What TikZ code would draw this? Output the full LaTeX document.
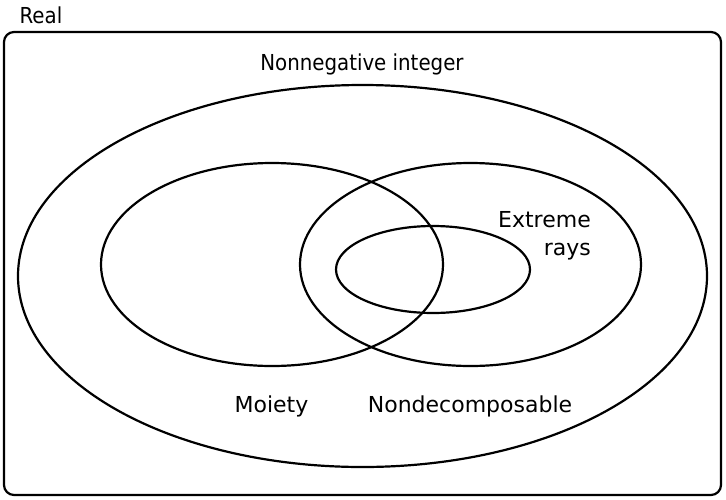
\documentclass[tikz,border=0pt]{standalone}
\usepackage{fontspec}
\setmainfont{DejaVu Sans}
\newfontfamily\condfont{DejaVu Sans Condensed}
\usetikzlibrary{shapes.geometric}
\tikzset{
  setline/.style={draw=black, line width=2.2pt},
  setellipse/.style={setline, ellipse, inner sep=0pt, fill=none},
  lbl/.style={font=\fontsize{22}{28}\selectfont, inner sep=0pt},
  outerlbl/.style={font=\condfont\fontsize{22}{28}\selectfont, inner sep=0pt},
}
\begin{document}
\begin{tikzpicture}[x=1pt,y=-1pt]
\useasboundingbox (0,0) rectangle (726,499);
\node[setline, rounded corners=10pt, minimum width=717pt, minimum height=463pt, inner sep=0pt] (real) at (362.5,263.5) {};
\node[setellipse, minimum width=689pt, minimum height=382pt] (nonneg) at (362.5,276) {};
\node[setellipse, minimum width=342pt, minimum height=203pt] (moiety) at (272,264.5) {};
\node[setellipse, minimum width=341pt, minimum height=203pt] (nondec) at (470.5,264.5) {};
\node[setellipse, minimum width=194pt, minimum height=87pt] (extreme) at (433,269.5) {};
\node[outerlbl, anchor=base] (treal) at (41,23) {Real};
\node[outerlbl, anchor=base] (tnonneg) at (362,70) {Nonnegative integer};
\node[lbl, anchor=base east] (textreme) at (591,227) {Extreme};
\node[lbl, anchor=base east] (trays) at (591,255) {rays};
\node[lbl, anchor=base] (tmoiety) at (271.5,412) {Moiety};
\node[lbl, anchor=base] (tnondec) at (470,412) {Nondecomposable};
\end{tikzpicture}
\end{document}
